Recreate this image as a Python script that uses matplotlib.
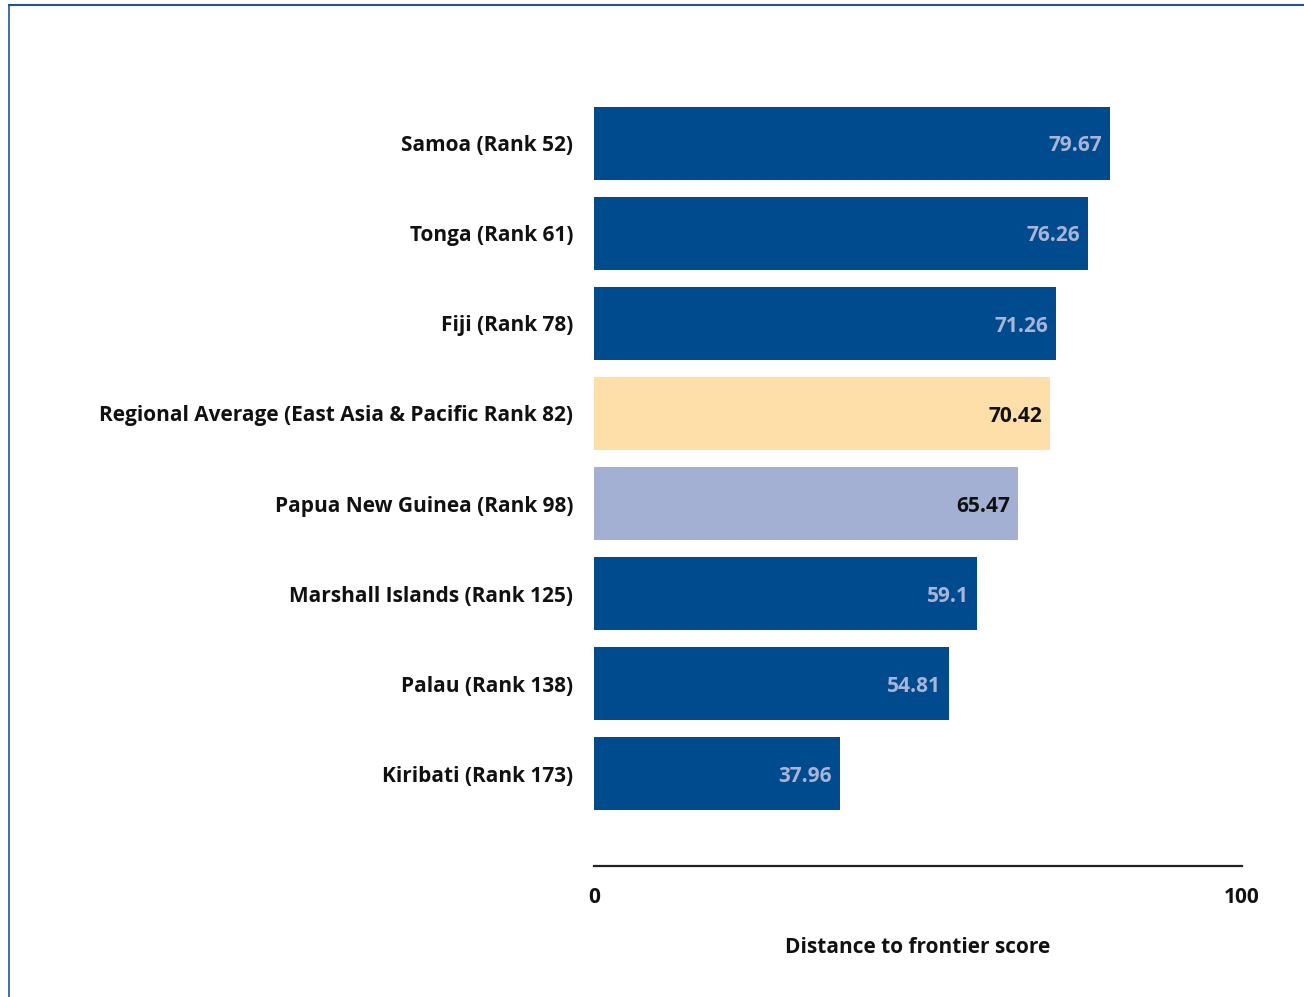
import matplotlib.pyplot as plt
from matplotlib.lines import Line2D

# data
labels = ['Samoa (Rank 52)', 'Tonga (Rank 61)', 'Fiji (Rank 78)',
          'Regional Average (East Asia & Pacific Rank 82)',
          'Papua New Guinea (Rank 98)', 'Marshall Islands (Rank 125)',
          'Palau (Rank 138)', 'Kiribati (Rank 173)']
scores = [79.67, 76.26, 71.26, 70.42, 65.47, 59.1, 54.81, 37.96]
value_text = ['79.67', '76.26', '71.26', '70.42', '65.47', '59.1', '54.81', '37.96']
kinds = ['country', 'country', 'country', 'region', 'png', 'country', 'country', 'country']

colors = {'country': '#004b8d', 'region': '#fedfa9', 'png': '#a3b0d3'}
text_colors = {'country': '#a9b4d8', 'region': '#111111', 'png': '#111111'}

plt.rcParams['font.family'] = ['Open Sans', 'DejaVu Sans']
fs = 15

fig = plt.figure(figsize=(13.04, 9.97), dpi=100)
ax = fig.add_axes([594 / 1304, 1 - 866 / 997, (1242 - 594) / 1304, (866 - 60) / 997])

n = len(labels)
ypos = [n - 1 - i for i in range(n)]
ax.barh(ypos, scores, height=0.81, color=[colors[k] for k in kinds])

for y, s, t, k in zip(ypos, scores, value_text, kinds):
    ax.text(s - 1.2, y - 0.03, t, ha='right', va='center', fontsize=fs,
            fontweight='bold', color=text_colors[k])

ax.set_xlim(0, 100)
ax.set_ylim(-(866 - 774) / 90, 7 + (143 - 60) / 90)
ax.set_yticks(ypos)
ax.set_yticklabels(labels, fontsize=fs, fontweight='bold', color='#111111')
ax.tick_params(axis='y', length=0, pad=15)
ax.set_xticks([0, 100])
ax.set_xticklabels(['0', '100'], fontsize=fs, fontweight='bold', color='#111111')
ax.tick_params(axis='x', length=0, pad=15)
ax.set_xlabel('Distance to frontier score', fontsize=fs, fontweight='bold',
              color='#111111', labelpad=21)

for side in ['top', 'right', 'left']:
    ax.spines[side].set_visible(False)
ax.spines['bottom'].set_linewidth(1.6)
ax.spines['bottom'].set_color('#222222')

# page frame
fig.add_artist(Line2D([9 / 1304, 9 / 1304], [0, 1 - 5 / 997],
                      transform=fig.transFigure, color='#1f5596', linewidth=1.2))
fig.add_artist(Line2D([9 / 1304, 1], [1 - 5 / 997, 1 - 5 / 997],
                      transform=fig.transFigure, color='#1f5596', linewidth=1.5))

fig.savefig('out.png', dpi=100)
